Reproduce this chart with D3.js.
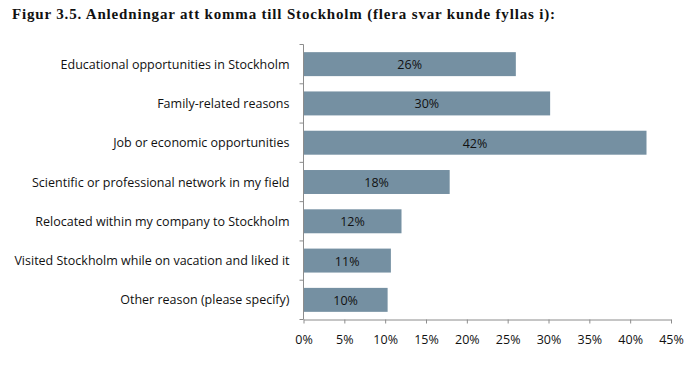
<!DOCTYPE html>
<html lang="sv">
<head>
<meta charset="utf-8">
<title>Figur 3.5</title>
<script src="https://cdn.jsdelivr.net/npm/d3@7"></script>
<style>
  body { margin: 0; background: #fff; }
  .title { font-family: "Liberation Serif", serif; font-weight: 700; font-size: 15px; fill: #111; }
  .axis text { font-family: "Open Sans", sans-serif; font-size: 12.5px; fill: #111; }
  .axis path, .axis line { stroke: #8c8c8c; }
  .label { font-family: "Open Sans", sans-serif; font-size: 12.5px; fill: #111; }
</style>
</head>
<body>
<svg id="chart" width="687" height="386"></svg>
<script>
// categories, top to bottom
var reasons = [
  "Educational opportunities in Stockholm",
  "Family-related reasons",
  "Job or economic opportunities",
  "Scientific or professional network in my field",
  "Relocated within my company to Stockholm",
  "Visited Stockholm while on vacation and liked it",
  "Other reason (please specify)"
];
// share of respondents
var shares = [0.260, 0.302, 0.420, 0.179, 0.120, 0.107, 0.103];
var xTicks = [0, 0.05, 0.10, 0.15, 0.20, 0.25, 0.30, 0.35, 0.40, 0.45];

var data = reasons.map(function(r, i) { return {reason: r, share: shares[i]}; });

var svg = d3.select("#chart");

// title (Garamond in the original, stretched to the same width)
svg.append("text")
  .attr("class", "title")
  .attr("x", 12)
  .attr("y", 18.5)
  .attr("textLength", 543)
  .attr("lengthAdjust", "spacing")
  .text("Figur 3.5. Anledningar att komma till Stockholm (flera svar kunde fyllas i):");

var plotLeft = 303.5, plotRight = 671, plotTop = 44.5, plotBottom = 319.5;

var x = d3.scaleLinear().domain([0, 0.45]).range([plotLeft, plotRight]);
var y = d3.scaleBand().domain(reasons).range([plotTop, plotBottom])
  .paddingInner(0.39).paddingOuter(0.195);

// bars
svg.selectAll(".bar")
  .data(data)
  .enter().append("rect")
  .attr("class", "bar")
  .attr("x", x(0))
  .attr("y", function(d) { return y(d.reason); })
  .attr("width", function(d) { return x(d.share) - x(0); })
  .attr("height", y.bandwidth())
  .attr("fill", "#7590a2");

// value labels
svg.selectAll(".label")
  .data(data)
  .enter().append("text")
  .attr("class", "label")
  .attr("text-anchor", "middle")
  .attr("x", function(d) { return (x(0) + x(d.share)) / 2; })
  .attr("y", function(d) { return y(d.reason) + y.bandwidth() / 2 + 5; })
  .text(function(d) { return d3.format(".0%")(d.share); });

// x axis
svg.append("g")
  .attr("class", "axis")
  .attr("transform", "translate(0," + plotBottom + ")")
  .call(d3.axisBottom(x).tickValues(xTicks).tickFormat(d3.format(".0%")).tickSize(4).tickSizeOuter(0).tickPadding(12));

// y axis: line with ticks between categories
var yAxis = svg.append("g").attr("class", "axis");
yAxis.append("line")
  .attr("x1", plotLeft).attr("x2", plotLeft)
  .attr("y1", plotTop).attr("y2", plotBottom);
var step = (plotBottom - plotTop) / reasons.length;
yAxis.selectAll(".ytick")
  .data(d3.range(reasons.length + 1))
  .enter().append("line")
  .attr("x1", plotLeft - 4).attr("x2", plotLeft)
  .attr("y1", function(i) { return plotTop + i * step; })
  .attr("y2", function(i) { return plotTop + i * step; });

yAxis.selectAll(".ylabel")
  .data(reasons)
  .enter().append("text")
  .attr("text-anchor", "end")
  .attr("x", plotLeft - 14)
  .attr("y", function(d) { return y(d) + y.bandwidth() / 2 + 4.5; })
  .text(function(d) { return d; });
</script>
</body>
</html>
